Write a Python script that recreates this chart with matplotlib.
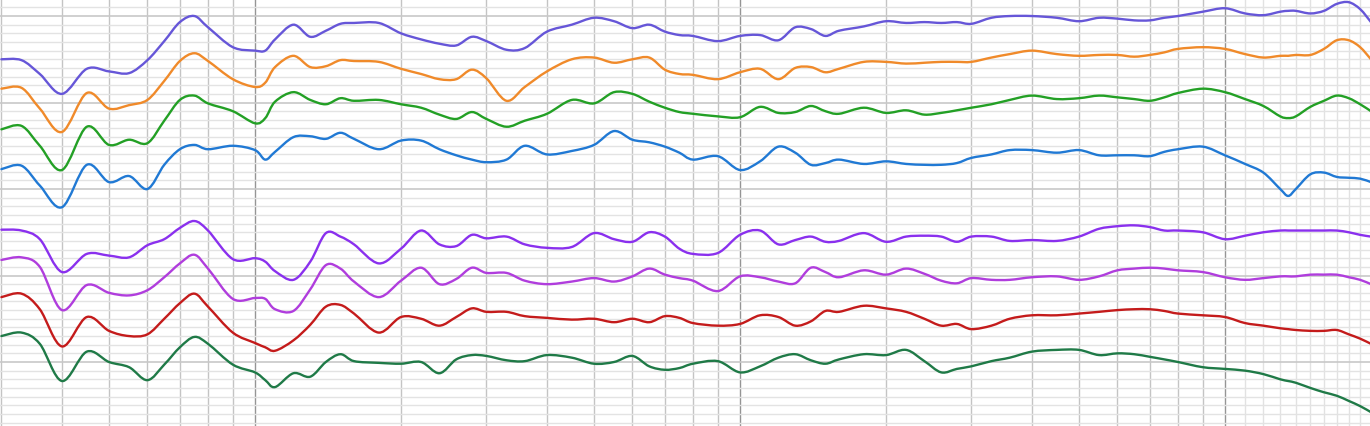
import numpy as np
import matplotlib
matplotlib.use("Agg")
import matplotlib.pyplot as plt
from matplotlib.path import Path
from matplotlib.patches import PathPatch
from matplotlib.ticker import FixedLocator, MultipleLocator, NullFormatter

# frequency grid (Hz)
freqs = [30, 33, 36, 40, 45, 50, 55, 60, 65, 70,
         75, 80, 90, 100, 105, 110, 120, 130, 140, 150,
         160, 180, 200, 220, 240, 260, 280, 300, 330, 360,
         400, 450, 500, 550, 600, 650, 700, 750, 800, 900,
         1000, 1100, 1200, 1300, 1400, 1500, 1600, 1800, 2000, 2200,
         2400, 2600, 2800, 3000, 3300, 3600, 4000, 4500, 5000, 5500,
         6000, 6500, 7000, 7500, 8000, 9000, 10000, 11000, 12000, 13000,
         13500, 14000, 15000, 16000, 17000, 18000, 19000, 20000]

# responses in dB (curves stacked with offsets)
resp1 = [35.0, 34.9, 33.3, 31.0, 33.9, 33.6, 33.4, 34.9, 37.1, 39.3,
         40.0, 38.7, 36.4, 36.0, 36.0, 37.3, 39.0, 37.6, 38.3, 39.1,
         39.2, 39.2, 38.0, 37.3, 36.8, 36.6, 37.6, 37.1, 36.1, 36.3,
         38.2, 39.0, 39.8, 39.4, 38.6, 39.0, 38.2, 37.8, 37.7, 37.1,
         37.7, 37.8, 37.2, 38.7, 38.5, 37.7, 38.3, 38.8, 39.4, 39.2,
         39.3, 39.2, 39.3, 39.1, 39.8, 40.0, 40.0, 39.8, 39.4, 39.8,
         39.7, 39.5, 39.5, 39.8, 40.0, 40.5, 40.9, 40.3, 40.1, 40.5,
         40.6, 40.6, 40.3, 40.6, 41.4, 41.6, 40.8, 39.3]
resp2 = [31.6, 31.7, 29.3, 26.6, 31.1, 29.3, 29.7, 30.3, 32.5, 34.8,
         35.7, 34.8, 32.7, 31.8, 32.3, 34.1, 35.4, 34.1, 34.2, 34.9,
         34.8, 34.7, 33.9, 33.3, 32.7, 32.7, 33.8, 32.8, 30.2, 31.8,
         33.6, 35.0, 35.2, 34.6, 35.0, 35.2, 33.8, 33.3, 33.2, 32.7,
         33.5, 33.9, 32.7, 34.0, 34.1, 33.5, 33.9, 34.7, 34.7, 34.5,
         34.6, 34.7, 34.7, 34.7, 35.2, 35.6, 36.0, 35.6, 35.4, 35.5,
         35.5, 35.3, 35.5, 35.8, 36.2, 36.4, 36.2, 35.6, 35.2, 35.4,
         35.4, 35.5, 35.5, 36.2, 37.2, 37.2, 36.4, 35.0]
resp3 = [26.9, 27.3, 25.0, 22.2, 27.2, 25.1, 25.7, 25.3, 27.9, 30.3,
         30.8, 29.9, 29.0, 27.6, 28.2, 30.1, 31.2, 30.3, 29.8, 30.5,
         30.2, 30.3, 29.8, 29.4, 28.6, 28.1, 28.9, 28.1, 27.2, 27.9,
         28.7, 30.3, 29.9, 31.2, 31.0, 30.1, 29.4, 28.9, 28.7, 28.4,
         28.3, 29.5, 28.8, 28.9, 29.6, 29.0, 28.7, 29.4, 28.8, 29.1,
         28.6, 28.8, 29.1, 29.4, 29.8, 30.3, 30.8, 30.4, 30.5, 30.8,
         30.6, 30.4, 30.2, 30.6, 31.1, 31.6, 31.2, 30.4, 29.6, 28.4,
         28.2, 28.4, 29.5, 30.2, 30.8, 30.5, 29.8, 29.0]
resp4 = [22.3, 22.7, 20.4, 17.9, 22.8, 20.8, 21.5, 20.0, 22.8, 24.6,
         25.1, 24.6, 25.0, 24.5, 23.4, 24.3, 26.0, 26.1, 25.8, 26.5,
         25.8, 24.6, 25.6, 25.6, 24.6, 23.9, 23.4, 23.1, 23.4, 25.0,
         24.0, 24.4, 25.1, 26.7, 25.7, 25.4, 24.9, 24.2, 23.4, 23.8,
         22.2, 23.2, 24.9, 24.2, 22.8, 23.0, 23.4, 22.9, 23.2, 22.9,
         22.8, 22.8, 23.0, 23.6, 24.0, 24.5, 24.5, 24.2, 24.5, 23.9,
         23.9, 23.9, 23.8, 24.3, 24.6, 24.9, 23.9, 22.9, 21.9, 20.0,
         19.2, 20.0, 21.7, 21.9, 21.4, 21.3, 21.2, 20.8]
resp5 = [15.3, 15.2, 14.2, 10.4, 12.5, 12.3, 12.1, 13.5, 14.2, 15.5,
         16.3, 15.2, 11.9, 12.0, 11.6, 10.5, 9.5, 11.6, 14.9, 14.5,
         13.6, 11.4, 13.1, 15.2, 13.6, 13.4, 14.7, 14.3, 14.5, 13.6,
         13.2, 13.3, 14.9, 14.2, 13.9, 15.0, 14.5, 13.1, 12.5, 12.6,
         14.7, 15.2, 13.6, 14.1, 14.5, 13.9, 14.0, 14.9, 13.9, 14.5,
         14.6, 14.5, 13.9, 14.5, 14.5, 14.0, 14.1, 14.0, 14.5, 15.4,
         15.7, 15.8, 15.6, 15.2, 15.2, 15.0, 14.2, 14.6, 15.0, 15.2,
         15.2, 15.2, 15.2, 15.2, 15.2, 15.0, 14.7, 14.5]
resp6 = [11.8, 12.1, 11.0, 6.0, 8.9, 8.0, 7.7, 8.3, 9.8, 11.4,
         12.4, 10.8, 7.3, 7.4, 7.3, 6.1, 5.9, 8.4, 11.2, 10.8,
         9.3, 7.5, 9.4, 10.9, 9.0, 9.6, 10.9, 10.3, 10.3, 9.4,
         9.0, 9.3, 9.7, 9.3, 9.9, 10.8, 10.1, 9.7, 9.4, 8.2,
         9.9, 9.8, 9.3, 9.1, 10.9, 10.4, 9.8, 10.6, 10.1, 10.8,
         10.2, 9.4, 9.1, 9.7, 9.5, 9.5, 9.8, 9.9, 9.5, 9.9,
         10.6, 10.8, 10.9, 10.8, 10.6, 10.4, 9.8, 9.5, 9.7, 9.9,
         9.9, 9.9, 10.1, 10.1, 10.1, 9.8, 9.5, 9.0]
resp7 = [7.5, 7.9, 6.1, 1.8, 5.2, 3.6, 3.0, 3.2, 5.0, 6.8,
         7.9, 6.4, 3.4, 2.2, 1.7, 1.3, 2.5, 4.3, 6.4, 6.6,
         5.6, 3.4, 5.2, 5.0, 4.2, 5.2, 6.2, 5.8, 5.8, 5.3,
         5.1, 4.9, 5.0, 4.6, 5.0, 4.6, 5.3, 5.1, 4.5, 4.2,
         4.4, 5.4, 5.2, 4.2, 4.7, 5.9, 5.8, 6.5, 6.2, 5.8,
         5.0, 4.2, 4.4, 3.8, 4.2, 5.0, 5.4, 5.4, 5.6, 5.8,
         6.0, 6.1, 6.1, 5.9, 5.6, 5.4, 5.2, 4.5, 4.2, 3.9,
         3.8, 3.7, 3.6, 3.6, 3.7, 3.2, 2.7, 2.1]
resp8 = [3.0, 3.4, 2.1, -2.2, 1.2, 0.0, -0.6, -2.1, -0.3, 1.7,
         2.9, 2.1, -0.3, -1.2, -2.1, -2.9, -1.3, -1.7, 0.0, 0.9,
         0.1, -0.1, -0.2, 0.0, -1.3, 0.3, 0.8, 0.7, 0.2, 0.1,
         0.8, 0.5, -0.2, 0.0, 0.7, -0.5, -0.9, -0.7, -0.2, 0.1,
         -1.2, -0.5, 0.5, 0.9, 0.2, -0.2, 0.3, 0.9, 0.8, 1.4,
         0.1, -1.2, -0.8, -0.5, 0.1, 0.5, 1.2, 1.4, 1.4, 0.8,
         1.0, 0.9, 0.6, 0.3, 0.0, -0.6, -0.8, -1.0, -1.4, -2.0,
         -2.2, -2.4, -3.0, -3.5, -3.9, -4.5, -5.1, -5.8]

curves = [resp1, resp2, resp3, resp4, resp5, resp6, resp7, resp8]
colors = ['#6656d8', '#f08a2a', '#23a025', '#2079d4',
          '#8a30ee', '#b03ddd', '#c41b1b', '#1f7a47']


def smooth_path(xs, ys):
    # Catmull-Rom through the points (log-x), drawn as cubic Bezier segments
    lx = np.log10(np.asarray(xs, float))
    y = np.asarray(ys, float)
    p = np.column_stack([lx, y])
    p = np.vstack([p[0], p, p[-1]])
    verts = [p[1]]
    codes = [Path.MOVETO]
    for i in range(1, len(p) - 2):
        c1 = p[i] + (p[i + 1] - p[i - 1]) / 6.0
        c2 = p[i + 1] - (p[i + 2] - p[i]) / 6.0
        verts += [c1, c2, p[i + 1]]
        codes += [Path.CURVE4] * 3
    verts = np.array(verts)
    verts[:, 0] = 10 ** verts[:, 0]
    return Path(verts, codes)


fig = plt.figure(figsize=(13.7, 4.27), dpi=100)
ax = fig.add_axes([0, 0, 1, 1])
ax.set_xscale('log')
ax.set_xlim(29.8, 19910)
ax.set_ylim(-7.4, 41.97)

# grid lines
ax.yaxis.set_major_locator(MultipleLocator(10))
ax.yaxis.set_minor_locator(MultipleLocator(1))
ax.xaxis.set_major_locator(FixedLocator([100, 1000, 10000]))
ax.xaxis.set_minor_locator(FixedLocator(
    [30, 40, 50, 60, 70, 80, 90, 200, 300, 400, 500, 600, 700, 800, 900,
     2000, 3000, 4000, 5000, 6000, 7000, 8000, 9000, 20000]))
ax.grid(which='major', axis='y', color='#c8c8c8', linewidth=1.2)
ax.grid(which='minor', axis='y', color='#e3e3e3', linewidth=1.0)
ax.grid(which='major', axis='x', color='#959595', linewidth=1.0)
ax.grid(which='minor', axis='x', color='#c4c4c4', linewidth=1.0)
for f in [11000, 12000, 13000, 14000, 15000, 16000, 17000, 18000, 19000]:
    ax.axvline(f, color='#e2e2e2', linewidth=1.0, zorder=0.5)
ax.set_axisbelow(True)

for vals, c in zip(curves, colors):
    ax.add_patch(PathPatch(smooth_path(freqs, vals), facecolor='none',
                           edgecolor=c, linewidth=1.7, capstyle='round',
                           joinstyle='round', zorder=3))

ax.tick_params(which='both', length=0)
ax.xaxis.set_major_formatter(NullFormatter())
ax.xaxis.set_minor_formatter(NullFormatter())
ax.yaxis.set_major_formatter(NullFormatter())
for s in ax.spines.values():
    s.set_visible(False)

fig.savefig('out.png', dpi=100)
